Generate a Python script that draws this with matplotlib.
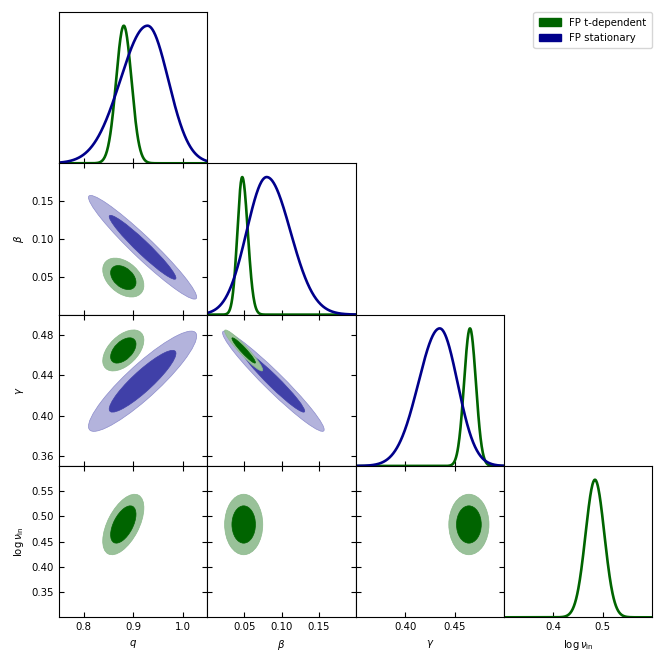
import numpy as np
import matplotlib.pyplot as plt
from matplotlib.patches import Patch, Ellipse
from matplotlib.colors import to_rgb

plt.rcParams['font.size'] = 7.3
plt.rcParams['mathtext.fontset'] = 'dejavusans'

# parameters, plot ranges and ticks
labels = [r'$q$', r'$\beta$', r'$\gamma$', r'$\log\nu_{\rm in}$']
lims = [(0.75, 1.05), (0.0, 0.2), (0.35, 0.5), (0.3, 0.6)]
xticks = [[0.8, 0.9, 1.0], [0.05, 0.10, 0.15], [0.40, 0.45], [0.4, 0.5]]
yticks = [None, [0.05, 0.10, 0.15], [0.36, 0.40, 0.44, 0.48],
          [0.35, 0.40, 0.45, 0.50, 0.55]]

# FP t-dependent (all four parameters)
td_mode = [0.881, 0.047, 0.4656, 0.484]
td_sig_lo = [0.0155, 0.0065, 0.006, 0.019]
td_sig_hi = [0.0155, 0.0075, 0.006, 0.019]
td_mean2d = [0.880, 0.049, 0.4645, 0.484]
td_sig2d = [0.017, 0.0105, 0.0083, 0.0245]
td_corr = [[1.0, -0.4, 0.5, 0.55],
           [-0.4, 1.0, -0.95, 0.0],
           [0.5, -0.95, 1.0, 0.0],
           [0.55, 0.0, 0.0, 1.0]]

# FP stationary (no log nu_in)
st_mode = [0.929, 0.080, 0.435]
st_sig_lo = [0.055, 0.027, 0.0215]
st_sig_hi = [0.042, 0.032, 0.018]
st_mean2d = [0.919, 0.089, 0.434]
st_sig2d = [0.0447, 0.028, 0.0203]
st_corr = [[1.0, -0.96, 0.90],
           [-0.96, 1.0, -0.965],
           [0.90, -0.965, 1.0]]

green = '#006400'
blue = '#00008B'
chi2_levels = [5.991, 2.279]  # 95% and 68% (2 dof)


def over_white(c, a):
    return tuple(np.array(c) * a + (1 - a))


def shades(c, alpha):
    rgb = np.array(to_rgb(c))
    outer = rgb * 0.4 + 0.6
    return over_white(outer, alpha), over_white(rgb, alpha)


chains = [
    dict(name='FP t-dependent', color=green, alpha=1.0, mode=td_mode, lo=td_sig_lo,
         hi=td_sig_hi, mean=td_mean2d, sig=td_sig2d, corr=td_corr, z=3),
    dict(name='FP stationary', color=blue, alpha=0.75, mode=st_mode, lo=st_sig_lo,
         hi=st_sig_hi, mean=st_mean2d, sig=st_sig2d, corr=st_corr, z=2),
]

n = len(labels)
fig, axes = plt.subplots(n, n, figsize=(6.64, 6.64), dpi=100)
plt.subplots_adjust(left=0.0889, right=0.9824, bottom=0.0703, top=0.982,
                    wspace=0, hspace=0)

for i in range(n):
    for j in range(n):
        ax = axes[i, j]
        if j > i:
            ax.axis('off')
            continue
        ax.set_xlim(lims[j])
        ax.set_xticks(xticks[j])
        if i == j:
            # 1D marginals
            x = np.linspace(lims[i][0], lims[i][1], 400)
            for ch in chains:
                if i >= len(ch['mode']):
                    continue
                m = ch['mode'][i]
                s = np.where(x < m, ch['lo'][i], ch['hi'][i])
                ax.plot(x, np.exp(-0.5 * ((x - m) / s) ** 2), color=ch['color'], lw=1.9)
            ax.set_ylim(0, 1.1)
            ax.set_yticks([])
            ax.tick_params(direction='in', top=False, left=False, right=False)
        else:
            # 2D confidence regions
            for ch in [chains[1], chains[0]]:
                if i >= len(ch['mean']):
                    continue
                sx, sy = ch['sig'][j], ch['sig'][i]
                r = ch['corr'][i][j]
                cov = np.array([[sx * sx, r * sx * sy], [r * sx * sy, sy * sy]])
                vals, vecs = np.linalg.eigh(cov)
                ang = np.degrees(np.arctan2(vecs[1, 1], vecs[0, 1]))
                cols = shades(ch['color'], ch['alpha'])
                edge = over_white(to_rgb(ch['color']), 0.45)
                for lev, fc in zip(chi2_levels, cols):
                    w = 2 * np.sqrt(lev * vals[1])
                    h = 2 * np.sqrt(lev * vals[0])
                    ell = Ellipse((ch['mean'][j], ch['mean'][i]), w, h, angle=ang,
                                  facecolor=fc, zorder=ch['z'],
                                  edgecolor=edge if lev == chi2_levels[0] else fc,
                                  linewidth=0.5)
                    ax.add_patch(ell)
            ax.set_ylim(lims[i])
            ax.set_yticks(yticks[i])
            ax.tick_params(direction='in', top=True, right=True)
            if j == 0:
                ax.set_ylabel(labels[i])
            else:
                ax.set_yticklabels([])
        if i == n - 1:
            ax.set_xlabel(labels[j])
        else:
            ax.set_xticklabels([])

handles = [Patch(color=ch['color'], label=ch['name']) for ch in chains]
fig.legend(handles=handles, loc='upper right', bbox_to_anchor=(0.9824, 0.982),
           borderaxespad=0, fontsize=7.3, handlelength=2.2, borderpad=0.55)

fig.savefig('out.png', dpi=100)
